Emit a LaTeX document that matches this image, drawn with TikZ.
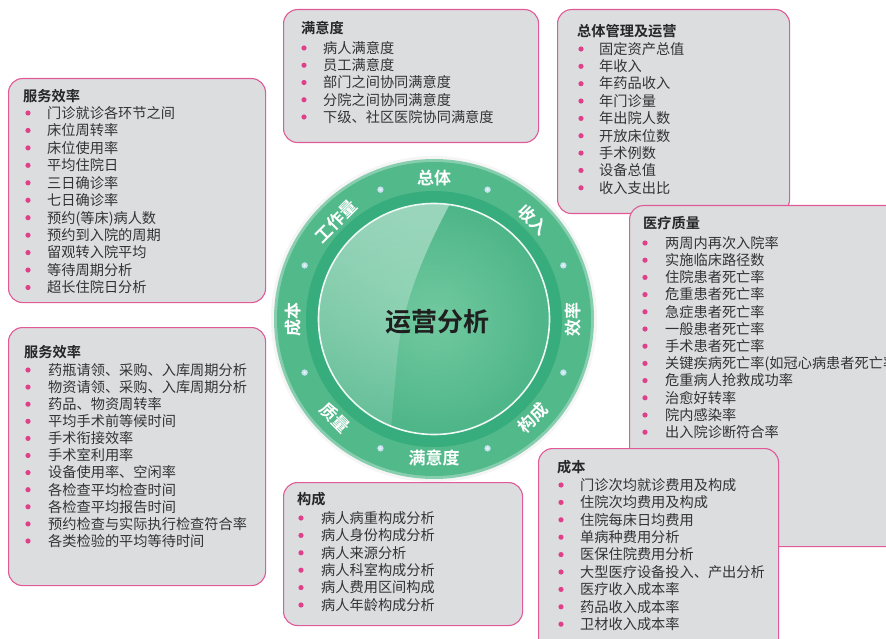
\documentclass[tikz,border=0pt]{standalone}
\usepackage{fontspec}
\setmainfont{Noto Sans CJK SC}[BoldFont=* Bold]
\usetikzlibrary{calc}
\definecolor{boxfill}{HTML}{DCDDDF}
\definecolor{boxline}{HTML}{E05A98}
\definecolor{bulc}{HTML}{E0408A}
\definecolor{txt}{HTML}{333333}
\definecolor{ringg}{HTML}{52B98B}
\definecolor{bandg}{HTML}{37AC7C}
\definecolor{diskin}{HTML}{72C9A0}
\definecolor{diskout}{HTML}{4DB588}
\definecolor{dotc}{HTML}{C4E2EE}
\tikzset{
  box/.style={draw=boxline, line width=1.1pt, fill=boxfill, rounded corners=14pt, anchor=north west, inner sep=0pt},
  itemtext/.style={anchor=west, inner sep=0pt, text height=12.3pt, text depth=1.7pt, text=txt, font=\fontsize{14.2}{17}\selectfont},
  titletext/.style={itemtext, font=\fontsize{14.2}{17}\selectfont\bfseries, text=black!85},
  ringlabel/.style={text=white, inner sep=0pt, font=\fontsize{17}{18}\selectfont\bfseries},
  bul/.style={fill=bulc}
}
\begin{document}
\begin{tikzpicture}[x=1pt,y=-1pt]
\useasboundingbox (0,0) rectangle (886,639);
% ---------- central circle ----------
\coordinate (C) at (434,319);
\fill[black!8, opacity=0.5] (C) circle (163);
\fill[ringg!70!white] (C) circle (160);
\fill[ringg] (C) circle (157);
\fill[bandg] (C) circle (128);
\shade[inner color=diskin, outer color=diskout] (C) circle (116);
\begin{scope}
  \clip (C) circle (115);
  \shade[top color=white!75!diskin, bottom color=diskout!80!white, opacity=0.55]
    (452,200) .. controls (428,245) and (402,300) .. (397,360)
    .. controls (394,395) and (392,415) .. (390,440) -- (300,440) -- (300,200) -- cycle;
\end{scope}
\draw[white!90!ringg, line width=1.6pt] (C) circle (115.5);
\node[inner sep=0pt, font=\fontsize{26}{28}\selectfont\bfseries, text=black!88] (center) at (437,322) {运营分析};
% dots
\foreach \a [count=\k] in {22.5,67.5,112.5,157.5,202.5,247.5,292.5,337.5}{
  \fill[dotc] ($(C)+(\a:140)$) circle (3.2);
  \fill[white!60!dotc] ($(C)+(\a:140)$) circle (1.4);
}
% ring labels (TikZ angle = - visual angle because y is flipped)
\node[ringlabel] (l1) at ($(C)+(-90:141)$) {总体};
\node[ringlabel, rotate=-45] (l2) at ($(C)+(-45:140)$) {收入};
\node[ringlabel, rotate=90] (l3) at ($(C)+(0:139)$) {效率};
\node[ringlabel, rotate=45] (l4) at ($(C)+(45:140)$) {构成};
\node[ringlabel] (l5) at ($(C)+(90:139)$) {满意度};
\node[ringlabel, rotate=-45] (l6) at ($(C)+(135:140)$) {质量};
\node[ringlabel, rotate=90] (l7) at ($(C)+(180:141)$) {成本};
\node[ringlabel, rotate=45] (l8) at ($(C)+(225:138)$) {工作量};
% ---------- Box A: 服务效率 (top-left) ----------
\node[box, minimum width=257pt, minimum height=224pt] (bA) at (8,78) {};
\node[titletext] (tA) at (23,96) {服务效率};
\foreach \t [count=\i from 0] in {门诊就诊各环节之间,床位周转率,床位使用率,平均住院日,三日确诊率,七日确诊率,{预约(等床)病人数},预约到入院的周期,留观转入院平均,等待周期分析,超长住院日分析}{
  \fill[bul] (28,113+\i*17.45) circle (2.6);
  \node[itemtext] (a\i) at (47,113+\i*17.45) {\t};
}
% ---------- Box B: 服务效率 (bottom-left) ----------
\node[box, minimum width=257pt, minimum height=258pt] (bB) at (8,327) {};
\node[titletext] (tB) at (24,352) {服务效率};
\foreach \t [count=\i from 0] in {药瓶请领、采购、入库周期分析,物资请领、采购、入库周期分析,药品、物资周转率,平均手术前等候时间,手术衔接效率,手术室利用率,设备使用率、空闲率,各检查平均检查时间,各检查平均报告时间,预约检查与实际执行检查符合率,各类检验的平均等待时间}{
  \fill[bul] (28,370+\i*17.1) circle (2.6);
  \node[itemtext] (b\i) at (48,370+\i*17.1) {\t};
}
% ---------- Box C: 满意度 ----------
\node[box, minimum width=255pt, minimum height=133pt] (bC) at (283,9) {};
\node[titletext] (tC) at (301,28) {满意度};
\foreach \t [count=\i from 0] in {病人满意度,员工满意度,部门之间协同满意度,分院之间协同满意度,下级、社区医院协同满意度}{
  \fill[bul] (304,48+\i*17.25) circle (2.6);
  \node[itemtext] (c\i) at (323,48+\i*17.25) {\t};
}
% ---------- Box D: 总体管理及运营 ----------
\node[box, minimum width=232pt, minimum height=204pt] (bD) at (557,9) {};
\node[titletext] (tD) at (577,31) {总体管理及运营};
\foreach \t [count=\i from 0] in {固定资产总值,年收入,年药品收入,年门诊量,年出院人数,开放床位数,手术例数,设备总值,收入支出比}{
  \fill[bul] (581,49+\i*17.35) circle (2.6);
  \node[itemtext] (d\i) at (599,49+\i*17.35) {\t};
}
% ---------- Box E: 医疗质量 ----------
\node[box, minimum width=290pt, minimum height=341pt] (bE) at (629,205) {};
\node[titletext] (tE) at (643,223) {医疗质量};
\foreach \t [count=\i from 0] in {两周内再次入院率,实施临床路径数,住院患者死亡率,危重患者死亡率,急症患者死亡率,一般患者死亡率,手术患者死亡率,{关键疾病死亡率(如冠心病患者死亡率},危重病人抢救成功率,治愈好转率,院内感染率,出入院诊断符合率}{
  \fill[bul] (645,243+\i*17.2) circle (2.6);
  \node[itemtext] (e\i) at (665,243+\i*17.2) {\t};
}
% ---------- Box F: 成本 ----------
\node[box, minimum width=240pt, minimum height=210pt] (bF) at (538,448) {};
\node[titletext] (tF) at (557,467) {成本};
\foreach \t [count=\i from 0] in {门诊次均就诊费用及构成,住院次均费用及构成,住院每床日均费用,单病种费用分析,医保住院费用分析,大型医疗设备投入、产出分析,医疗收入成本率,药品收入成本率,卫材收入成本率}{
  \fill[bul] (561,485+\i*17.4) circle (2.6);
  \node[itemtext] (f\i) at (580,485+\i*17.4) {\t};
}
% ---------- Box G: 构成 ----------
\node[box, minimum width=239pt, minimum height=143pt] (bG) at (283,482) {};
\node[titletext] (tG) at (297,499) {构成};
\foreach \t [count=\i from 0] in {病人病重构成分析,病人身份构成分析,病人来源分析,病人科室构成分析,病人费用区间构成,病人年龄构成分析}{
  \fill[bul] (301,518+\i*17.4) circle (2.6);
  \node[itemtext] (g\i) at (321,518+\i*17.4) {\t};
}
\end{tikzpicture}
\end{document}
